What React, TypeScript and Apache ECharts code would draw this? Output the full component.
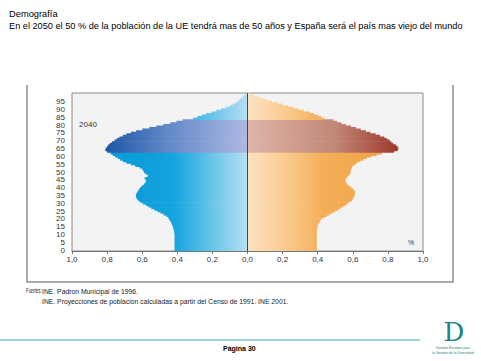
import React, { useEffect, useRef } from "react";
import * as echarts from "echarts";

const ages: number[] = Array.from({ length: 101 }, (_, i) => i);

// Men (left side), % of population per single year of age, 2040
const men: number[] = [
  0.415, 0.415, 0.415, 0.415, 0.415, 0.415, 0.415, 0.415, 0.415, 0.415,
  0.415, 0.417, 0.418, 0.42, 0.422, 0.425, 0.428, 0.432, 0.436, 0.441,
  0.447, 0.452, 0.462, 0.478, 0.495, 0.512, 0.53, 0.548, 0.564, 0.578,
  0.597, 0.612, 0.622, 0.63, 0.635, 0.636, 0.633, 0.628, 0.622, 0.616,
  0.61, 0.6, 0.59, 0.582, 0.578, 0.58, 0.586, 0.57, 0.566, 0.58,
  0.59, 0.595, 0.6, 0.615, 0.64, 0.665, 0.69, 0.71, 0.725, 0.74,
  0.755, 0.768, 0.78, 0.8, 0.81, 0.808, 0.8, 0.793, 0.785, 0.772,
  0.758, 0.745, 0.73, 0.71, 0.69, 0.664, 0.635, 0.6, 0.56, 0.52,
  0.48, 0.44, 0.405, 0.37, 0.31, 0.285, 0.26, 0.235, 0.205, 0.178,
  0.15, 0.122, 0.1, 0.084, 0.068, 0.055, 0.045, 0.035, 0.026, 0.017,
  0.008,
];

// Women (right side)
const women: number[] = [
  0.395, 0.395, 0.395, 0.395, 0.395, 0.395, 0.395, 0.395, 0.395, 0.395,
  0.395, 0.395, 0.395, 0.396, 0.397, 0.399, 0.4, 0.405, 0.41, 0.415,
  0.42, 0.435, 0.452, 0.467, 0.483, 0.5, 0.515, 0.53, 0.545, 0.558,
  0.57, 0.582, 0.595, 0.6, 0.605, 0.61, 0.612, 0.613, 0.608, 0.6,
  0.59, 0.578, 0.568, 0.562, 0.558, 0.556, 0.562, 0.57, 0.578, 0.585,
  0.587, 0.588, 0.591, 0.594, 0.6, 0.613, 0.625, 0.64, 0.66, 0.68,
  0.705, 0.736, 0.765, 0.835, 0.855, 0.86, 0.855, 0.845, 0.83, 0.82,
  0.81, 0.795, 0.78, 0.755, 0.73, 0.7, 0.675, 0.645, 0.617, 0.59,
  0.56, 0.535, 0.51, 0.49, 0.44, 0.42, 0.4, 0.378, 0.355, 0.32,
  0.29, 0.26, 0.23, 0.2, 0.17, 0.14, 0.11, 0.085, 0.06, 0.035,
  0.01,
];

// Highlighted generation (ages)
const bandStart = 63;
const bandEnd = 83;

const xTicks: number[] = [-1, -0.8, -0.6, -0.4, -0.2, 0, 0.2, 0.4, 0.6, 0.8, 1];

const FONT = "Liberation Sans, Arial, sans-serif";

// grid geometry (pixels)
const GL = 72;
const GR = 58;
const W = 481;
const CX = (GL + (W - GR)) / 2;

const lg = (x0: number, x1: number, stops: [number, string][]) =>
  new echarts.graphic.LinearGradient(
    x0, 0, x1, 0,
    stops.map(([offset, color]) => ({ offset, color })),
    true
  );

export default function App() {
  const ref = useRef<HTMLDivElement>(null);

  useEffect(() => {
    if (!ref.current) return;
    const chart = echarts.init(ref.current, null, { renderer: "svg" });

    const inBand = (a: number) => a >= bandStart && a <= bandEnd;

    const leftNormal = lg(CX, GL, [[0, "#b6dff2"], [0.22, "#62c2e9"], [0.42, "#14a4de"], [1, "#0094d4"]]);
    const leftBand = lg(CX, GL, [[0, "#aeb9e3"], [0.45, "#6489c8"], [0.8, "#1d58a6"], [1, "#124f9f"]]);
    const rightNormal = lg(CX, W - GR, [[0, "#fde2c2"], [0.22, "#fbcb90"], [0.42, "#f4af5a"], [1, "#ed9a36"]]);
    const rightBand = lg(CX, W - GR, [[0, "#ddb6a9"], [0.5, "#c28777"], [0.85, "#9e3a2c"], [1, "#962e22"]]);

    const menData = men.map((v, i) => ({
      value: -v,
      itemStyle: { color: inBand(ages[i]) ? leftBand : leftNormal },
    }));
    const womenData = women.map((v, i) => ({
      value: v,
      itemStyle: { color: inBand(ages[i]) ? rightBand : rightNormal },
    }));

    chart.setOption({
      animation: false,
      textStyle: { fontFamily: FONT },
      grid: {
        left: GL,
        right: GR,
        top: 93,
        bottom: 110,
        show: true,
        backgroundColor: "#f3f3f3",
        borderColor: "#8a8a8a",
        borderWidth: 1,
      },
      xAxis: {
        type: "value",
        min: -1,
        max: 1,
        interval: 0.2,
        axisLine: { show: true, lineStyle: { color: "#777" } },
        axisTick: { show: true, length: 3, lineStyle: { color: "#777" } },
        splitLine: { show: false },
        axisLabel: {
          fontSize: 8,
          color: "#333",
          margin: 4,
          formatter: (v: number) =>
            xTicks.some((t) => Math.abs(t - v) < 1e-6)
              ? Math.abs(v).toFixed(1).replace(".", ",")
              : "",
        },
      },
      yAxis: {
        type: "category",
        data: ages.map(String),
        boundaryGap: true,
        axisLine: { show: false, onZero: false },
        axisTick: { show: false },
        splitLine: { show: false },
        axisLabel: {
          fontSize: 8,
          color: "#333",
          margin: 7,
          lineHeight: 8,
          interval: (index: number) => index % 5 === 0 && index <= 95,
        },
      },
      series: [
        {
          name: "Hombres",
          type: "bar",
          data: menData,
          barWidth: 2.3,
          barGap: "-100%",
          silent: true,
          markLine: {
            silent: true,
            symbol: "none",
            label: { show: false },
            lineStyle: { color: "#444", width: 1, type: "solid" },
            data: [{ xAxis: 0 }],
          },
        },
        {
          name: "Mujeres",
          type: "bar",
          data: womenData,
          barWidth: 2.3,
          barGap: "-100%",
          silent: true,
        },
      ],
      graphic: [
        {
          type: "text",
          left: 9,
          top: 9,
          style: { text: "Demografía", fontSize: 9.3, fill: "#000", fontFamily: FONT },
        },
        {
          type: "text",
          left: 9,
          top: 21,
          style: {
            text:
              "En el 2050 el 50 % de la población de la UE tendrá mas de 50 años y España será el país mas viejo del mundo",
            fontSize: 9.2,
            fill: "#000",
            fontFamily: FONT,
          },
        },
        {
          type: "polyline",
          shape: { points: [[27, 85], [27, 282], [453, 282], [453, 85]] },
          style: { stroke: "#8c8c8c", lineWidth: 1.5, fill: "none" },
        },
        {
          type: "text",
          x: 88,
          y: 124,
          style: {
            text: "2040",
            fontSize: 8,
            fill: "#333",
            align: "center",
            verticalAlign: "middle",
            fontFamily: FONT,
          },
        },
        {
          type: "text",
          x: 411,
          y: 242,
          style: {
            text: "%",
            fontSize: 7,
            fill: "#333",
            align: "center",
            verticalAlign: "middle",
            fontFamily: FONT,
          },
        },
        {
          type: "text",
          x: 26,
          y: 291,
          scaleX: 0.62,
          style: {
            text: "Fuentes:",
            fontSize: 6.5,
            fill: "#222",
            verticalAlign: "middle",
            fontFamily: FONT,
          },
        },
        {
          type: "text",
          x: 42,
          y: 291,
          style: {
            text: "INE. Padron Municipal de 1996.",
            fontSize: 6.8,
            fill: "#222",
            verticalAlign: "middle",
            fontFamily: FONT,
          },
        },
        {
          type: "text",
          x: 42,
          y: 301,
          style: {
            text:
              "INE. Proyecciones de población calculadas a partir del Censo de 1991. INE 2001.",
            fontSize: 6.8,
            fill: "#222",
            verticalAlign: "middle",
            fontFamily: FONT,
          },
        },
        {
          type: "line",
          shape: { x1: 0, y1: 340, x2: 420, y2: 340 },
          style: { stroke: "#9fd0d2", lineWidth: 2 },
        },
        {
          type: "text",
          x: 223,
          y: 348,
          style: {
            text: "Página 30",
            fontSize: 7,
            fontWeight: "bold",
            fill: "#000",
            verticalAlign: "middle",
            fontFamily: FONT,
          },
        },
        {
          type: "text",
          x: 454,
          y: 331.5,
          style: {
            text: "D",
            fontSize: 26,
            fill: "#1f8482",
            align: "center",
            verticalAlign: "middle",
            fontFamily: "DejaVu Serif, Liberation Serif, serif",
          },
        },
        {
          type: "text",
          x: 453,
          y: 347.5,
          style: {
            text: "Instituto Europeo para",
            fontSize: 3.5,
            fill: "#2a7f7e",
            align: "center",
            verticalAlign: "middle",
            fontFamily: FONT,
          },
        },
        {
          type: "text",
          x: 453,
          y: 352.5,
          style: {
            text: "la Gestión de la Diversidad",
            fontSize: 3.5,
            fill: "#2a7f7e",
            align: "center",
            verticalAlign: "middle",
            fontFamily: FONT,
          },
        },
      ],
    });

    return () => chart.dispose();
  }, []);

  return (
    <div
      ref={ref}
      style={{ position: "fixed", left: 0, top: 0, width: 481, height: 361, background: "#fff" }}
    />
  );
}
